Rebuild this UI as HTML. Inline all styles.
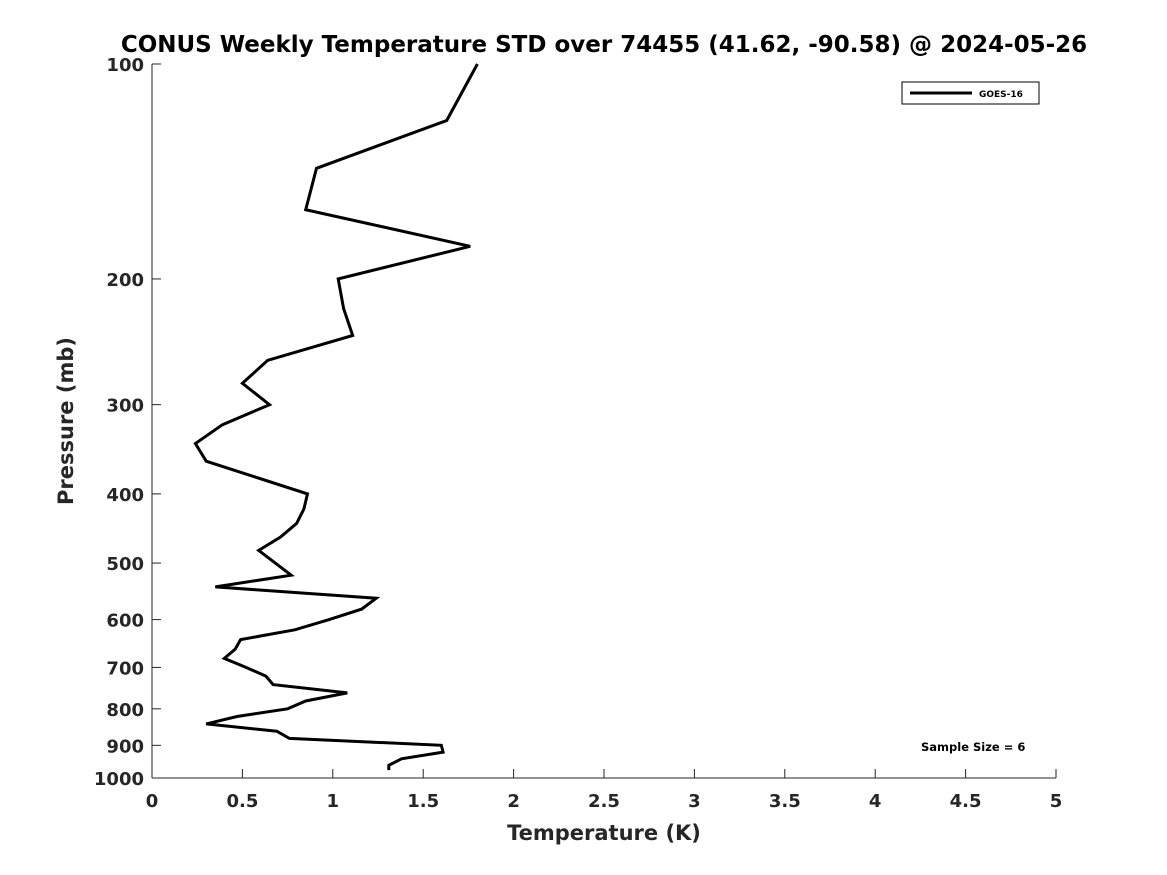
<!DOCTYPE html>
<html><head><meta charset="utf-8"><style>
html,body{margin:0;padding:0;background:#fff;}
svg{display:block;font-family:"DejaVu Sans","Liberation Sans",sans-serif;}
</style></head><body>
<svg id="chart" width="1167" height="875" xmlns="http://www.w3.org/2000/svg">
<rect width="1167" height="875" fill="#fff"/>
<text x="604" y="52" text-anchor="middle" font-size="23" font-weight="bold" fill="#000">CONUS Weekly Temperature STD over 74455 (41.62, -90.58) @ 2024-05-26</text>
<g id="axes"></g>
<g id="series"></g>
<text x="604" y="840" text-anchor="middle" font-size="21" font-weight="bold" fill="#262626">Temperature (K)</text>
<text transform="translate(73,421) rotate(-90)" text-anchor="middle" font-size="21" font-weight="bold" fill="#262626">Pressure (mb)</text>
<g>
<rect x="902" y="82" width="137" height="22" fill="#fff" stroke="#000" stroke-width="1"/>
<line x1="910" y1="93" x2="972" y2="93" stroke="#000" stroke-width="3"/>
<text x="979" y="97" font-size="9" font-weight="bold" fill="#000">GOES-16</text>
</g>
<text x="921" y="751" font-size="11.5" font-weight="bold" fill="#000">Sample Size = 6</text>
</svg>
<script>
const xTicks=[0,0.5,1,1.5,2,2.5,3,3.5,4,4.5,5];
const yTicks=[100,200,300,400,500,600,700,800,900,1000];
const pressure=[100,120,140,160,180,200,220,240,260,280,300,320,340,360,400,420,440,460,480,520,540,560,580,600,620,640,660,680,700,720,740,760,780,800,820,840,860,880,900,920,940,960,975];
const stdTemp=[1.80,1.63,0.91,0.85,1.76,1.03,1.06,1.11,0.64,0.50,0.65,0.39,0.24,0.30,0.86,0.84,0.80,0.71,0.59,0.77,0.35,1.24,1.16,0.98,0.79,0.49,0.46,0.40,0.52,0.63,0.67,1.08,0.85,0.75,0.47,0.30,0.69,0.76,1.60,1.61,1.38,1.31,1.31];
const L=152,R=1056,T=64,B=778;
const xs=v=>L+(v-0)/(5-0)*(R-L);
const ys=p=>T+(Math.log10(p)-2)*(B-T);
const NS="http://www.w3.org/2000/svg";
const ax=document.getElementById('axes');
function mk(t,a,parent){const e=document.createElementNS(NS,t);for(const k in a)e.setAttribute(k,a[k]);parent.appendChild(e);return e;}
const xl=mk('line',{x1:L,y1:B,x2:R,y2:B,stroke:'#262626','stroke-width':1},ax);


const yl=mk('line',{x1:L,y1:T,x2:L,y2:B,stroke:'#262626','stroke-width':1},ax);


xTicks.forEach(v=>{
  const x=xs(v);
  mk('line',{x1:x,y1:B,x2:x,y2:B-9,stroke:'#262626'},ax);
  const t=mk('text',{x:x,y:B+29,'text-anchor':'middle','font-size':18,'font-weight':'bold',fill:'#262626'},ax);
  t.textContent=String(v);
  
  
});
yTicks.forEach(p=>{
  const y=ys(p);
  mk('line',{x1:L,y1:y,x2:L+9,y2:y,stroke:'#262626'},ax);
  const t=mk('text',{x:L-8,y:y+7,'text-anchor':'end','font-size':18,'font-weight':'bold',fill:'#262626'},ax);
  t.textContent=String(p);
  
  
});
const pts=pressure.map((p,i)=>xs(stdTemp[i]).toFixed(1)+','+ys(p).toFixed(1)).join(' ');
const pl=mk('polyline',{points:pts,fill:'none',stroke:'#000','stroke-width':3,'stroke-linejoin':'miter'},document.getElementById('series'));


</script>
</body></html>
